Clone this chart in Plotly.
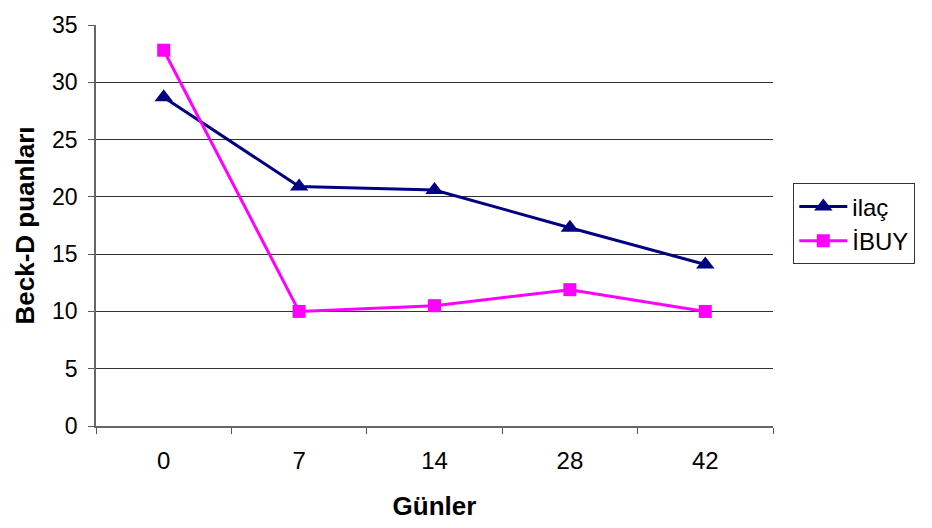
import plotly.graph_objects as go

days = ["0", "7", "14", "28", "42"]
ilac = [28.7, 20.9, 20.6, 17.3, 14.1]
ibuy = [32.8, 10.0, 10.5, 11.9, 10.0]
y_ticks = [0, 5, 10, 15, 20, 25, 30, 35]

fig = go.Figure()
fig.add_trace(go.Scatter(
    x=days, y=ilac, name="ilaç", mode="lines+markers",
    line=dict(color="#000080", width=3),
    marker=dict(symbol="triangle-up", size=16, color="#000080"),
))
fig.add_trace(go.Scatter(
    x=days, y=ibuy, name="İBUY", mode="lines+markers",
    line=dict(color="#FF00FF", width=3),
    marker=dict(symbol="square", size=13, color="#FF00FF"),
))

font_family = "Liberation Sans, Arial, sans-serif"
fig.update_layout(
    width=932, height=528,
    margin=dict(l=96, r=159, t=17, b=102),
    paper_bgcolor="white", plot_bgcolor="white",
    font=dict(family=font_family, size=20, color="black"),
    showlegend=True,
    legend=dict(
        x=1.03, y=0.605, xanchor="left", yanchor="top",
        bordercolor="#333333", borderwidth=1,
        font=dict(size=24), tracegroupgap=6, itemwidth=48,
    ),
)
fig.update_xaxes(
    type="category", range=[-0.5, 4.5], tickson="boundaries",
    ticks="outside", ticklen=6,
    tickcolor="#555555", showline=True, linecolor="#666666", linewidth=1.5,
    showgrid=False, tickfont=dict(size=24), ticklabelstandoff=12,
    title=dict(text="<b>Günler</b>", font=dict(size=26), standoff=24),
)
fig.update_yaxes(
    range=[0, 35], tickvals=y_ticks, ticks="outside", ticklen=6,
    tickcolor="#555555", showline=True, linecolor="#666666", linewidth=1.5,
    showgrid=True, gridcolor="#333333", gridwidth=1, zeroline=False,
    tickfont=dict(size=23), ticklabelstandoff=6,
    title=dict(text="<b>Beck-D puanları</b>", font=dict(size=26), standoff=10),
)

fig.write_html("out.html", config={"displayModeBar": False})
with open("out.html", encoding="utf-8") as f:
    html = f.read()
html = html.replace("<head>", "<head><style>html,body{margin:0;padding:0;overflow:hidden}</style>", 1)
with open("out.html", "w", encoding="utf-8") as f:
    f.write(html)
